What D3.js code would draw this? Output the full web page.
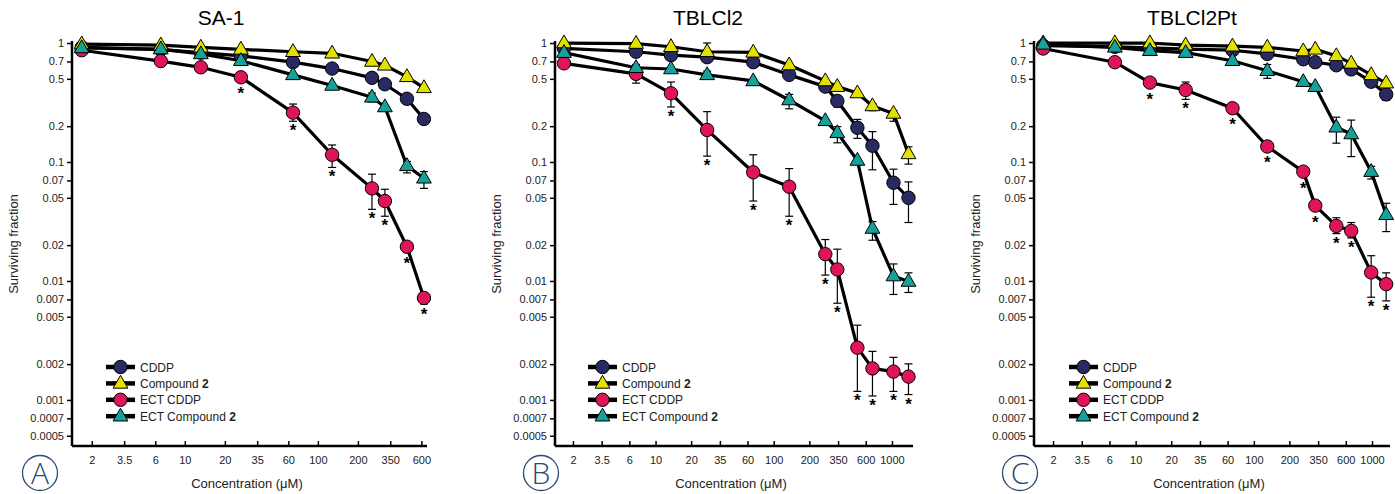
<!DOCTYPE html>
<html>
<head>
<meta charset="utf-8">
<script src="https://cdn.jsdelivr.net/npm/d3@7"></script>
<style>
  body { margin: 0; background: #fff; }
  svg { font-family: "Liberation Sans", Arial, sans-serif; }
</style>
</head>
<body>
<script>
// ---- data ----
const seriesNames = ["CDDP", "Compound 2", "ECT CDDP", "ECT Compound 2"];
const yTicks = [1, 0.7, 0.5, 0.2, 0.1, 0.07, 0.05, 0.02, 0.01, 0.007, 0.005, 0.002, 0.001, 0.0007, 0.0005];
const xTicksA = [2, 3.5, 6, 10, 20, 35, 60, 100, 200, 350, 600];
const xTicksBC = [2, 3.5, 6, 10, 20, 35, 60, 100, 200, 350, 600, 1000];

// SA-1
const concA = [1.68, 6.6, 13.2, 26.4, 65, 128, 255, 319, 467, 627];
const sa1Cddp = [0.92, 0.88, 0.83, 0.78, 0.69, 0.61, 0.51, 0.45, 0.34, 0.23];
const sa1Cpd2 = [0.98, 0.96, 0.92, 0.885, 0.845, 0.82, 0.70, 0.65, 0.52, 0.42];
const sa1EctCddp = [0.87, 0.705, 0.625, 0.515, 0.26, 0.115, 0.06, 0.047, 0.0194, 0.0072];
const sa1EctCpd2 = [0.91, 0.89, 0.81, 0.71, 0.54, 0.44, 0.35, 0.29, 0.093, 0.073];
const sa1EctCddpErr = [null, null, null, null, [0.22, 0.307], [0.09, 0.139], [0.04, 0.079], [0.035, 0.059], [0.0175, 0.0212], [0.0064, 0.0079]];
const sa1EctCpd2Err = [null, null, null, null, null, null, [0.32, 0.38], null, [0.081, 0.101], [0.06, 0.083]];
const sa1Stars = [3, 4, 5, 6, 7, 8, 9];

// TBLCl2
const concB = [1.68, 6.84, 13.5, 27.3, 67, 135, 273, 345, 510, 684, 1030, 1380];
const tbCddp = [0.90, 0.845, 0.79, 0.76, 0.69, 0.54, 0.43, 0.326, 0.194, 0.137, 0.067, 0.05];
const tbCpd2 = [1.0, 0.99, 0.93, 0.845, 0.835, 0.653, 0.48, 0.43, 0.38, 0.296, 0.256, 0.117];
const tbEctCddp = [0.675, 0.55, 0.378, 0.186, 0.082, 0.062, 0.0168, 0.0125, 0.00275, 0.00184, 0.00173, 0.00157];
const tbEctCpd2 = [0.83, 0.62, 0.605, 0.54, 0.48, 0.332, 0.222, 0.176, 0.103, 0.0276, 0.011, 0.0099];
const tbCddpErr = [null, null, null, null, null, null, [0.40, 0.46], [0.29, 0.36], [0.158, 0.228], [0.086, 0.18], [0.044, 0.087], [0.031, 0.068]];
const tbCpd2Err = [null, null, null, [0.78, 1.0], null, null, null, null, null, [0.27, 0.31], [0.22, 0.27], [0.096, 0.134]];
const tbEctCddpErr = [null, [0.46, 0.59], [0.29, 0.47], [0.112, 0.265], [0.047, 0.115], [0.035, 0.088], [0.0112, 0.0223], [0.0065, 0.0185], [0.00118, 0.00425], [0.00108, 0.00256], [0.00118, 0.00228], [0.00111, 0.00201]];
const tbEctCpd2Err = [null, [0.57, 0.66], null, [0.5, 0.58], null, [0.28, 0.37], null, [0.145, 0.198], null, [0.022, 0.0315], [0.0077, 0.0139], [0.008, 0.0117]];
const tbStars = [2, 3, 4, 5, 6, 7, 8, 9, 10, 11];

// TBLCl2Pt
const concC = [1.65, 6.67, 13.2, 26.5, 66, 130, 262, 331, 499, 667, 984, 1318];
const ptCddp = [0.95, 0.93, 0.91, 0.89, 0.87, 0.81, 0.73, 0.69, 0.65, 0.60, 0.473, 0.37];
const ptCpd2 = [1.0, 1.0, 1.0, 0.96, 0.94, 0.92, 0.857, 0.885, 0.78, 0.675, 0.54, 0.46];
const ptEctCddp = [0.90, 0.69, 0.465, 0.403, 0.283, 0.135, 0.083, 0.043, 0.029, 0.0264, 0.0118, 0.0094];
const ptEctCpd2 = [0.975, 0.92, 0.862, 0.83, 0.71, 0.585, 0.473, 0.43, 0.196, 0.172, 0.083, 0.036];
const ptCddpErr = [null, null, null, null, null, null, null, null, null, null, null, [0.33, 0.41]];
const ptEctCddpErr = [null, null, null, [0.336, 0.47], null, null, null, null, [0.025, 0.034], [0.023, 0.031], [0.0073, 0.0163], [0.0068, 0.0117]];
const ptEctCpd2Err = [null, null, null, null, null, [0.505, 0.66], null, null, [0.144, 0.238], [0.111, 0.225], [0.072, 0.092], [0.026, 0.045]];
const ptStars = [2, 3, 4, 5, 6, 7, 8, 9, 10, 11];

// ---- styling ----
const colors = ["#2a2a63", "#e4e000", "#de1559", "#16a29a"];
const shapes = ["circle", "triangle", "circle", "triangle"];
const drawOrder = [0, 2, 1, 3];

const W = 1395, H = 494;
const svg = d3.select("body").append("svg").attr("width", W).attr("height", H);

const panels = [
  {
    title: "SA-1", letter: "A", titleX: 221, letterX: 40, ylabX: 14, xlabX: 247,
    left: 72, right: 427, xDomain: [1.42, 661], xTicks: xTicksA, conc: concA,
    values: [sa1Cddp, sa1Cpd2, sa1EctCddp, sa1EctCpd2],
    errors: [null, null, sa1EctCddpErr, sa1EctCpd2Err],
    stars: sa1Stars, legendDx: 34,
  },
  {
    title: "TBLCl2", letter: "B", titleX: 708, letterX: 541, ylabX: 497, xlabX: 731,
    left: 555, right: 913, xDomain: [1.41, 1507], xTicks: xTicksBC, conc: concB,
    values: [tbCddp, tbCpd2, tbEctCddp, tbEctCpd2],
    errors: [tbCddpErr, tbCpd2Err, tbEctCddpErr, tbEctCpd2Err],
    stars: tbStars, legendDx: 33,
  },
  {
    title: "TBLCl2Pt", letter: "C", titleX: 1192, letterX: 1020, ylabX: 976, xlabX: 1209,
    left: 1034, right: 1390, xDomain: [1.38, 1420], xTicks: xTicksBC, conc: concC,
    values: [ptCddp, ptCpd2, ptEctCddp, ptEctCpd2],
    errors: [ptCddpErr, null, ptEctCddpErr, ptEctCpd2Err],
    stars: ptStars, legendDx: 35,
  },
];

const plotTop = 41, plotBottom = 446;
const y = d3.scaleLog().domain([0.00041, 1.04]).range([plotBottom, plotTop]);

const triangle = d3.symbol().type(d3.symbolTriangle).size(95);

function marker(g, shape, color, cx, cy) {
  if (shape === "circle") {
    g.append("circle").attr("cx", cx).attr("cy", cy).attr("r", 6.7)
      .attr("fill", color).attr("stroke", "#000").attr("stroke-width", 1);
  } else {
    g.append("path").attr("d", triangle).attr("transform", `translate(${cx},${cy + 0.5})`)
      .attr("fill", color).attr("stroke", "#000").attr("stroke-width", 1);
  }
}

panels.forEach((p) => {
  const x = d3.scaleLog().domain(p.xDomain).range([p.left, p.right]);
  const g = svg.append("g");

  // axes
  const yAxis = g.append("g").attr("transform", `translate(${p.left},0)`)
    .call(d3.axisLeft(y).tickValues(yTicks).tickFormat((d) => d).tickSize(5).tickSizeOuter(0).tickPadding(3));
  const xAxis = g.append("g").attr("transform", `translate(0,${plotBottom})`)
    .call(d3.axisBottom(x).tickValues(p.xTicks).tickFormat((d) => d).tickSize(-5).tickSizeOuter(0).tickPadding(10));
  [yAxis, xAxis].forEach((a) => {
    a.select(".domain").attr("stroke-width", 2.5);
    a.selectAll(".tick line").attr("stroke-width", 1.5);
    a.selectAll(".tick text").attr("font-size", 11).attr("fill", "#222")
      .attr("font-family", "Liberation Sans, Arial, sans-serif");
  });
  yAxis.select(".domain").attr("d", `M0,${plotBottom}V${plotTop}`);
  xAxis.select(".domain").attr("d", `M${p.left},0H${p.right}`);

  // titles and labels
  g.append("text").attr("x", p.titleX).attr("y", 25).attr("text-anchor", "middle")
    .attr("font-size", 21).text(p.title);
  g.append("text").attr("transform", `translate(${p.ylabX + 4},244) rotate(-90)`)
    .attr("text-anchor", "middle").attr("font-size", 13).attr("fill", "#222").text("Surviving fraction");
  g.append("text").attr("x", p.xlabX).attr("y", 488).attr("text-anchor", "middle")
    .attr("font-size", 13).attr("fill", "#222").text("Concentration (μM)");
  g.append("circle").attr("cx", p.letterX).attr("cy", 473).attr("r", 17.5)
    .attr("fill", "none").attr("stroke", "#2b4a75").attr("stroke-width", 1.3);
  g.append("text").attr("x", p.letterX).attr("y", 484).attr("text-anchor", "middle")
    .attr("font-family", "Open Sans, sans-serif").attr("font-weight", 300)
    .attr("font-size", 30).attr("fill", "#2b4a75").text(p.letter);

  // lines
  const line = d3.line().x((d) => x(d[0])).y((d) => y(d[1]));
  drawOrder.forEach((s) => {
    g.append("path").datum(p.conc.map((c, i) => [c, p.values[s][i]]))
      .attr("d", line).attr("fill", "none").attr("stroke", "#000").attr("stroke-width", 3.2)
      .attr("stroke-linejoin", "round");
  });

  // error bars
  drawOrder.forEach((s) => {
    const err = p.errors[s];
    if (!err) return;
    err.forEach((e, i) => {
      if (!e) return;
      const cx = x(p.conc[i]);
      const y0 = y(e[0]), y1 = y(e[1]);
      g.append("line").attr("x1", cx).attr("x2", cx).attr("y1", y0).attr("y2", y1)
        .attr("stroke", "#000").attr("stroke-width", 1.2);
      [y0, y1].forEach((yy) => g.append("line").attr("x1", cx - 4).attr("x2", cx + 4)
        .attr("y1", yy).attr("y2", yy).attr("stroke", "#000").attr("stroke-width", 1.2));
    });
  });

  // markers
  drawOrder.forEach((s) => {
    p.conc.forEach((c, i) => marker(g, shapes[s], colors[s], x(c), y(p.values[s][i])));
  });

  // significance stars (ECT CDDP)
  p.stars.forEach((i) => {
    const cx = x(p.conc[i]);
    const e = p.errors[2][i];
    const lowest = Math.max(y(p.values[2][i]) + 7, e ? y(e[0]) : 0);
    g.append("text").attr("x", cx).attr("y", lowest + 15).attr("text-anchor", "middle")
      .attr("font-size", 17).attr("font-weight", "bold").text("*");
  });

  // legend
  const lg = g.append("g");
  seriesNames.forEach((name, s) => {
    const ly = 367 + s * 16.4;
    const lx = p.left + p.legendDx;
    lg.append("line").attr("x1", lx).attr("x2", lx + 29).attr("y1", ly).attr("y2", ly)
      .attr("stroke", "#000").attr("stroke-width", 4.5);
    marker(lg, shapes[s], colors[s], lx + 14.5, ly);
    const t = lg.append("text").attr("x", lx + 34).attr("y", ly + 4.5)
      .attr("font-size", 12).attr("fill", "#222");
    if (name.endsWith(" 2")) {
      t.append("tspan").text(name.slice(0, -1));
      t.append("tspan").attr("font-weight", "bold").text("2");
    } else {
      t.text(name);
    }
  });
});
</script>
</body>
</html>
